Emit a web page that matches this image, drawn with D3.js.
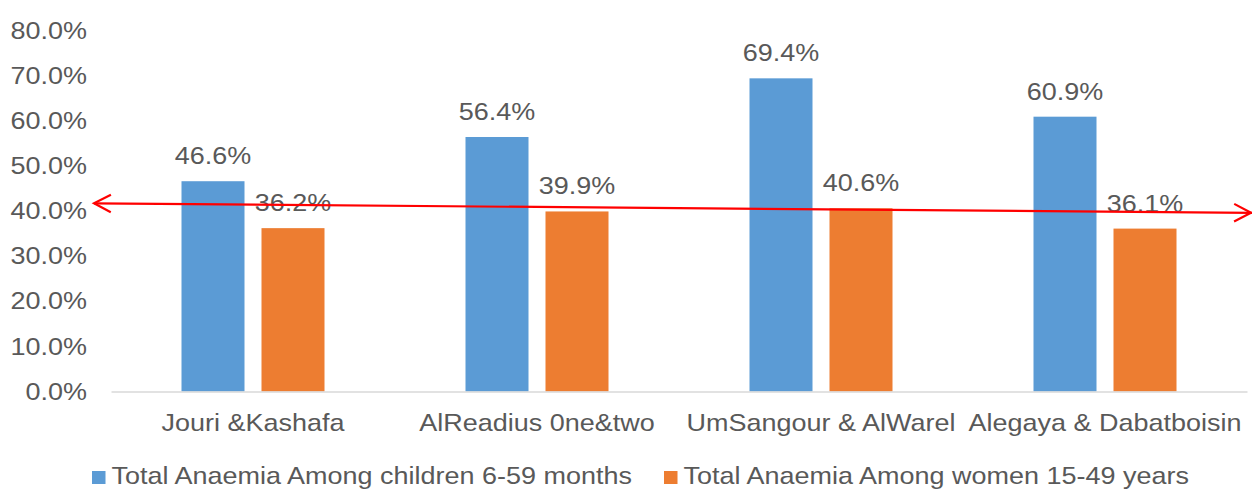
<!DOCTYPE html>
<html>
<head>
<meta charset="utf-8">
<script src="https://cdn.jsdelivr.net/npm/d3@7"></script>
<style>
  html, body { margin: 0; padding: 0; background: #fff; }
  svg text { font-family: "Liberation Sans", Arial, sans-serif; fill: #595959; }
</style>
</head>
<body>
<svg id="chart" width="1252" height="490"></svg>
<script>
// Sites surveyed
const categories = ["Jouri &Kashafa", "AlReadius 0ne&two", "UmSangour & AlWarel", "Alegaya & Dabatboisin"];
// Anaemia prevalence (%)
const childrenValues = [46.6, 56.4, 69.4, 60.9];
const womenValues = [36.2, 39.9, 40.6, 36.1];
const seriesNames = ["Total Anaemia Among children 6-59 months", "Total Anaemia Among women 15-49 years"];
const tickValues = [0, 10, 20, 30, 40, 50, 60, 70, 80];
// Reference arrow drawn across the plot (value at left end, value at right end)
const arrowValues = [41.7, 39.6];

const colors = ["#5B9BD5", "#ED7D31"];
const FONT = "24px";
const STRETCH = 1.125; // wide text rendering
const svg = d3.select("#chart");
const plot = { left: 111, right: 1247, top: 30.5, bottom: 391.5 };

const x = d3.scaleBand().domain(categories).range([plot.left, plot.right]).paddingInner(0).paddingOuter(0);
const y = d3.scaleLinear().domain([0, 80]).range([plot.bottom, plot.top]);
const barW = 63, gap = 17;

// widen glyphs horizontally around their anchor point
function stretch(sel) {
  sel.each(function () {
    const t = d3.select(this);
    const tx = +t.attr("x") || 0, ty = +t.attr("y") || 0;
    t.attr("x", 0).attr("y", 0)
     .attr("transform", `translate(${tx},${ty}) scale(${STRETCH},1)`);
  });
}

// y axis labels
const yAxis = d3.axisLeft(y).tickValues(tickValues).tickFormat(d => d.toFixed(1) + "%").tickSize(0).tickPadding(24);
const gy = svg.append("g").attr("transform", `translate(${plot.left},0)`).call(yAxis);
gy.select(".domain").remove();
gy.selectAll("text").style("font-size", FONT).attr("fill", "#595959").style("font-family", "Liberation Sans, Arial, sans-serif").call(stretch);

// bars
const series = [childrenValues, womenValues];
series.forEach((vals, si) => {
  const offset = si === 0 ? -(gap / 2 + barW) : gap / 2;
  const g = svg.append("g");
  g.selectAll("rect").data(vals).join("rect")
    .attr("x", (d, i) => x(categories[i]) + x.bandwidth() / 2 + offset)
    .attr("y", d => y(d))
    .attr("width", barW)
    .attr("height", d => y(0) - y(d))
    .attr("fill", colors[si]);
  g.selectAll("text").data(vals).join("text")
    .attr("x", (d, i) => x(categories[i]) + x.bandwidth() / 2 + offset + barW / 2)
    .attr("y", d => y(d) - 17)
    .attr("text-anchor", "middle")
    .style("font-size", FONT)
    .text(d => d.toFixed(1) + "%")
    .call(stretch);
});

// category axis
const xAxis = d3.axisBottom(x).tickSize(0).tickPadding(22);
const gx = svg.append("g").attr("transform", `translate(0,${plot.bottom})`).call(xAxis);
gx.select(".domain").attr("stroke", "#D9D9D9").attr("stroke-width", 1.5);
gx.selectAll("text").style("font-size", FONT).attr("fill", "#595959").style("font-family", "Liberation Sans, Arial, sans-serif").call(stretch);

// red double-headed arrow
const ax1 = 94, ax2 = 1252;
const ay1 = y(arrowValues[0]), ay2 = y(arrowValues[1]);
const ang = Math.atan2(ay2 - ay1, ax2 - ax1);
const arrow = svg.append("g").attr("stroke", "#FF0000").attr("stroke-width", 2.2).attr("fill", "none");
arrow.append("line").attr("x1", ax1).attr("y1", ay1).attr("x2", ax2).attr("y2", ay2);
function head(px, py, dir) {
  const L = 19, spread = 0.48;
  const a = ang + (dir > 0 ? 0 : Math.PI);
  const p1 = [px - L * Math.cos(a - spread), py - L * Math.sin(a - spread)];
  const p2 = [px - L * Math.cos(a + spread), py - L * Math.sin(a + spread)];
  arrow.append("path").attr("d", `M${p1[0]},${p1[1]}L${px},${py}L${p2[0]},${p2[1]}`);
}
head(ax1, ay1, -1);
head(ax2 - 1, ay2, 1);

// legend
const legendItems = [{ name: seriesNames[0], color: colors[0], x: 92 }, { name: seriesNames[1], color: colors[1], x: 664 }];
const lg = svg.append("g");
legendItems.forEach(it => {
  lg.append("rect").attr("x", it.x).attr("y", 471).attr("width", 13.5).attr("height", 13).attr("fill", it.color);
  lg.append("text").attr("x", it.x + 19.5).attr("y", 484).style("font-size", FONT).text(it.name).call(stretch);
});
</script>
</body>
</html>
